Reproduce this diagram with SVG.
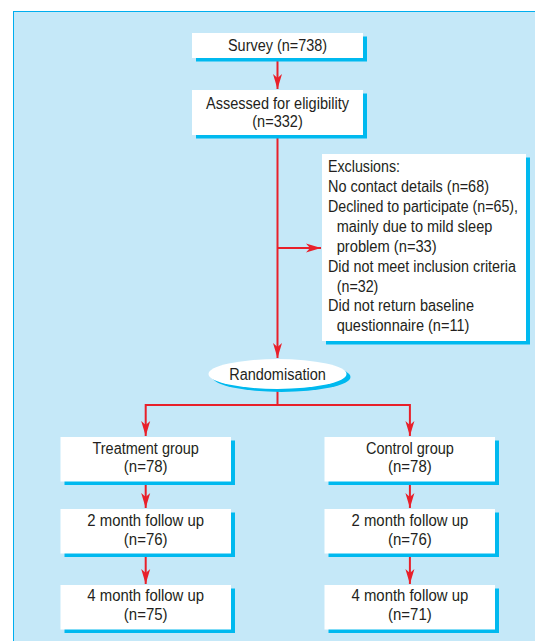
<svg xmlns="http://www.w3.org/2000/svg" width="535" height="641" viewBox="0 0 535 641">
<defs>
<style>
.box{fill:#ffffff}
.sh{fill:#00b9ef}
.ln{stroke:#e8202a;stroke-width:2;fill:none}
.t{font-family:"Liberation Sans",Arial,sans-serif;font-size:16px;fill:#231f20}
.c{text-anchor:middle}
</style>
<marker id="ah" markerUnits="userSpaceOnUse" markerWidth="16" markerHeight="10" refX="15" refY="5" orient="auto">
<path d="M0,0.5 L15,5 L0,9.5 L4,5 Z" fill="#e8202a"/>
</marker>
</defs>
<rect x="13.5" y="11.5" width="530" height="640" fill="#c5e8f8" stroke="#00aeef" stroke-width="1"/>

<g id="connectors">
<line class="ln" x1="277.5" y1="58" x2="277.5" y2="89" marker-end="url(#ah)"/>
<line class="ln" x1="277.5" y1="135" x2="277.5" y2="358" marker-end="url(#ah)"/>
<line class="ln" x1="277.5" y1="248" x2="321" y2="248" marker-end="url(#ah)"/>
<polyline class="ln" points="277.5,389 277.5,405 145.7,405 145.7,436" marker-end="url(#ah)"/>
<polyline class="ln" points="277.5,405 409.9,405 409.9,436" marker-end="url(#ah)"/>
<line class="ln" x1="145.7" y1="485" x2="145.7" y2="508" marker-end="url(#ah)"/>
<line class="ln" x1="409.9" y1="485" x2="409.9" y2="508" marker-end="url(#ah)"/>
<line class="ln" x1="145.7" y1="557" x2="145.7" y2="584" marker-end="url(#ah)"/>
<line class="ln" x1="409.9" y1="557" x2="409.9" y2="584" marker-end="url(#ah)"/>
</g>

<g id="survey">
<rect class="sh" x="196" y="36.5" width="171" height="25"/>
<rect class="box" x="192" y="33" width="171" height="25"/>
<text class="t c" x="277.5" y="51" textLength="99" lengthAdjust="spacingAndGlyphs">Survey (n=738)</text>
</g>

<g id="assessed">
<rect class="sh" x="196" y="93.5" width="171" height="45"/>
<rect class="box" x="192" y="90" width="171" height="45"/>
<text class="t c" x="277.5" y="108.5" textLength="143" lengthAdjust="spacingAndGlyphs">Assessed for eligibility</text>
<text class="t c" x="277.5" y="127" textLength="50.5" lengthAdjust="spacingAndGlyphs">(n=332)</text>
</g>

<g id="exclusions">
<rect class="sh" x="326" y="157.5" width="204" height="187"/>
<rect class="box" x="322" y="154" width="204" height="187"/>
<text class="t" x="328" y="172" textLength="72" lengthAdjust="spacingAndGlyphs">Exclusions:</text>
<text class="t" x="328" y="192" textLength="161" lengthAdjust="spacingAndGlyphs">No contact details (n=68)</text>
<text class="t" x="328" y="212" textLength="190" lengthAdjust="spacingAndGlyphs">Declined to participate (n=65),</text>
<text class="t" x="336.7" y="232" textLength="155.6" lengthAdjust="spacingAndGlyphs">mainly due to mild sleep</text>
<text class="t" x="336.7" y="252" textLength="100" lengthAdjust="spacingAndGlyphs">problem (n=33)</text>
<text class="t" x="328" y="271.5" textLength="188" lengthAdjust="spacingAndGlyphs">Did not meet inclusion criteria</text>
<text class="t" x="336.7" y="291.5" textLength="41.7" lengthAdjust="spacingAndGlyphs">(n=32)</text>
<text class="t" x="328" y="311" textLength="146" lengthAdjust="spacingAndGlyphs">Did not return baseline</text>
<text class="t" x="336.7" y="331" textLength="132.7" lengthAdjust="spacingAndGlyphs">questionnaire (n=11)</text>
</g>

<g id="randomisation">
<ellipse class="sh" cx="281.5" cy="377" rx="69" ry="15"/>
<ellipse class="box" cx="277.5" cy="374" rx="69" ry="15"/>
<text class="t c" x="277.5" y="380" textLength="96.6" lengthAdjust="spacingAndGlyphs">Randomisation</text>
</g>

<g id="treatment">
<rect class="sh" x="64.5" y="440.5" width="170.5" height="44.5"/>
<rect class="box" x="60.5" y="437" width="170.5" height="44.5"/>
<text class="t c" x="145.7" y="454.3" textLength="106.4" lengthAdjust="spacingAndGlyphs">Treatment group</text>
<text class="t c" x="145.7" y="472.4" textLength="43.7" lengthAdjust="spacingAndGlyphs">(n=78)</text>
</g>

<g id="control">
<rect class="sh" x="328.5" y="440.5" width="170.5" height="44.5"/>
<rect class="box" x="324.5" y="437" width="170.5" height="44.5"/>
<text class="t c" x="409.9" y="454.3" textLength="88" lengthAdjust="spacingAndGlyphs">Control group</text>
<text class="t c" x="409.9" y="472.4" textLength="43.7" lengthAdjust="spacingAndGlyphs">(n=78)</text>
</g>

<g id="treat2">
<rect class="sh" x="64.5" y="512.5" width="170.5" height="44.5"/>
<rect class="box" x="60.5" y="509" width="170.5" height="44.5"/>
<text class="t c" x="145.7" y="526" textLength="116.7" lengthAdjust="spacingAndGlyphs">2 month follow up</text>
<text class="t c" x="145.7" y="544.8" textLength="43.7" lengthAdjust="spacingAndGlyphs">(n=76)</text>
</g>

<g id="control2">
<rect class="sh" x="328.5" y="512.5" width="170.5" height="44.5"/>
<rect class="box" x="324.5" y="509" width="170.5" height="44.5"/>
<text class="t c" x="409.9" y="526" textLength="116.7" lengthAdjust="spacingAndGlyphs">2 month follow up</text>
<text class="t c" x="409.9" y="544.8" textLength="43.7" lengthAdjust="spacingAndGlyphs">(n=76)</text>
</g>

<g id="treat4">
<rect class="sh" x="64.5" y="588.5" width="170.5" height="44.5"/>
<rect class="box" x="60.5" y="585" width="170.5" height="44.5"/>
<text class="t c" x="145.7" y="601" textLength="116.7" lengthAdjust="spacingAndGlyphs">4 month follow up</text>
<text class="t c" x="145.7" y="620" textLength="43.7" lengthAdjust="spacingAndGlyphs">(n=75)</text>
</g>

<g id="control4">
<rect class="sh" x="328.5" y="588.5" width="170.5" height="44.5"/>
<rect class="box" x="324.5" y="585" width="170.5" height="44.5"/>
<text class="t c" x="409.9" y="601" textLength="116.7" lengthAdjust="spacingAndGlyphs">4 month follow up</text>
<text class="t c" x="409.9" y="620" textLength="43.7" lengthAdjust="spacingAndGlyphs">(n=71)</text>
</g>
</svg>
